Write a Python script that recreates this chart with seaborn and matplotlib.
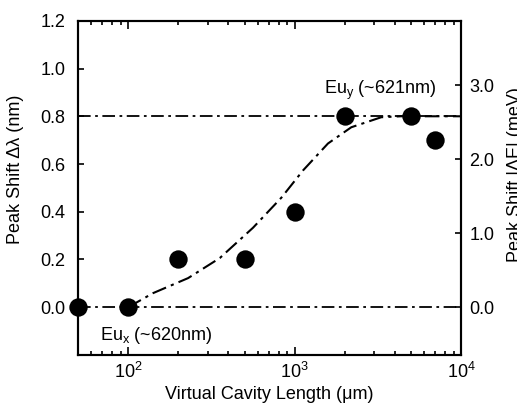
import matplotlib
matplotlib.use("Agg")
import matplotlib.pyplot as plt
import numpy as np
import pandas as pd
import seaborn as sns
from matplotlib.ticker import LogLocator, NullFormatter

# measured points
cavity_len = [50, 100, 200, 500, 1000, 2000, 5000, 7000]
peak_shift = [0.0, 0.0, 0.2, 0.2, 0.4, 0.8, 0.8, 0.7]

# guide curve
curve_len = [100, 141, 229, 355, 562, 832, 1122, 1585, 2188, 3311, 4365, 10000]
curve_shift = [0.0, 0.059, 0.122, 0.206, 0.333, 0.459, 0.573, 0.686, 0.754, 0.796, 0.80, 0.80]

# reference levels
level_x = 0.0
level_y = 0.8

left_ticks = [0.0, 0.2, 0.4, 0.6, 0.8, 1.0, 1.2]
right_ticks = [0.0, 1.0, 2.0, 3.0]

nm_to_mev = 1240e3 / 620**2

sns.set_style("ticks", {'axes.edgecolor': 'black', 'text.color': 'black',
                        'axes.labelcolor': 'black', 'xtick.color': 'black',
                        'ytick.color': 'black'})
plt.rcParams['font.family'] = ['Liberation Sans', 'DejaVu Sans']
plt.rcParams['mathtext.fontset'] = 'custom'
plt.rcParams['mathtext.rm'] = 'Liberation Sans'
plt.rcParams['mathtext.it'] = 'Liberation Sans'
fontsz = 13

fig = plt.figure(figsize=(5.17, 4.08), dpi=100)
ax = fig.add_axes([0.151, 0.130, 0.741, 0.819])

dashdot = (0, (7, 2.5, 1.5, 2.5))
ax.axhline(level_x, color='black', lw=1.3, ls=dashdot, zorder=1)
ax.axhline(level_y, color='black', lw=1.3, ls=dashdot, zorder=1)

df_curve = pd.DataFrame({'L': curve_len, 'shift': curve_shift})
sns.lineplot(data=df_curve, x='L', y='shift', ax=ax, color='black', lw=1.5,
             linestyle=dashdot, zorder=2)

df_pts = pd.DataFrame({'L': cavity_len, 'shift': peak_shift})
sns.scatterplot(data=df_pts, x='L', y='shift', ax=ax, color='black', s=175,
                edgecolor='black', linewidth=0, zorder=3, clip_on=False)

ax.set_xscale('log')
ax.set_xlim(50, 1e4)
ax.set_ylim(-0.2, 1.2)
ax.set_yticks(left_ticks)
ax.set_yticklabels(['%.1f' % v for v in left_ticks])
ax.xaxis.set_minor_locator(LogLocator(base=10, subs=np.arange(2, 10)))
ax.xaxis.set_minor_formatter(NullFormatter())

for s in ax.spines.values():
    s.set_linewidth(1.5)
ax.tick_params(axis='x', which='both', direction='in', top=True, width=1.2,
               labelsize=fontsz, pad=5)
ax.tick_params(axis='x', which='major', length=6)
ax.tick_params(axis='x', which='minor', length=3)
ax.tick_params(axis='y', direction='in', length=4, width=1.2, labelsize=fontsz,
               pad=9, right=False)

ax.set_xlabel('Virtual Cavity Length (μm)', fontsize=fontsz, labelpad=3)
ax.set_ylabel('Peak Shift Δλ (nm)', fontsize=fontsz)
ax.yaxis.set_label_coords(-0.141, 0.557)

ax2 = ax.twinx()
ax2.set_ylim(-0.2 * nm_to_mev, 1.2 * nm_to_mev)
ax2.set_yticks(right_ticks)
ax2.set_yticklabels(['%.1f' % v for v in right_ticks])
ax2.tick_params(axis='y', direction='in', length=4, width=1.2, labelsize=fontsz, pad=6)
for s in ax2.spines.values():
    s.set_linewidth(1.5)
ax2.set_ylabel('Peak Shift |ΔE| (meV)', fontsize=fontsz)
ax2.yaxis.set_label_coords(1.12, 0.54)

ax.text(1496, 0.86, r'Eu$_\mathregular{y}$ (~621nm)', fontsize=fontsz, ha='left', va='bottom')
ax.text(67.8, -0.12, r'Eu$_\mathregular{x}$ (~620nm)', fontsize=fontsz, ha='left', va='center')

plt.savefig('out.png', dpi=100)
